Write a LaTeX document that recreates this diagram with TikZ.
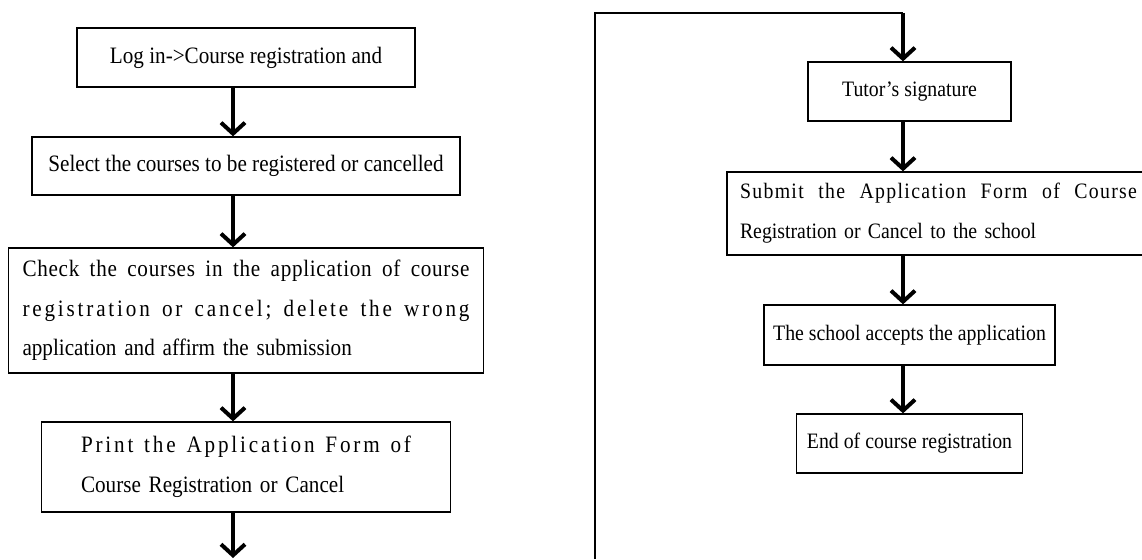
\documentclass[tikz,border=0pt]{standalone}
\usepackage{fontspec}
\setmainfont[FakeStretch=0.9]{Liberation Serif}
\usepackage{xcolor}
\usepackage{tikz}
\usetikzlibrary{arrows.meta, positioning}
\setlength{\parindent}{0pt}
\tikzstyle{stepbox} = [rectangle, draw=black, line width=1.3pt, inner sep=0pt, text centered, font=\fontsize{23.5}{39.5}\selectfont]
\tikzstyle{rightbox} = [stepbox, font=\fontsize{22}{40}\selectfont]
\tikzstyle{arrow} = [line width=4pt, -{Straight Barb[length=11pt,width=24pt]}]
\tikzstyle{frame} = [line width=1.6pt]
% one spread-out line, words split by \hfill
\newcommand{\spreadline}[3]{\makebox[#1][s]{\addfontfeature{LetterSpace=#2}#3}}

\begin{document}
\begin{tikzpicture}[x=1pt, y=1pt, on grid]
            \useasboundingbox (0,0) rectangle (1142,-559);
            \clip (0,0) rectangle (1142,-559);
            % Left column
            \node[stepbox, minimum width=338pt, minimum height=59pt] (login) at (246,-57.5) {Log in->Course registration and};
            \node[stepbox, minimum width=428pt, minimum height=58pt, below=108.5pt of login] (select) {Select the courses to be registered or cancelled};
            \node[stepbox, minimum width=475pt, minimum height=125pt, text width=447pt, align=left, below=144.5pt of select] (check)
                {\spreadline{447pt}{3}{Check\hfill the\hfill courses\hfill in\hfill the\hfill application\hfill of\hfill course}\\
                 \spreadline{447pt}{12}{registration\hfill or\hfill cancel;\hfill delete\hfill the\hfill wrong}\\
                 application and affirm the submission};
            \node[stepbox, minimum width=409pt, minimum height=90pt, text width=330pt, align=left, below=156.5pt of check] (print)
                {\spreadline{330pt}{12}{Print\hfill the\hfill Application\hfill Form\hfill of}\\
                 Course Registration or Cancel};
            % Right column
            \node[rightbox, minimum width=203pt, minimum height=59pt] (tutor) at (909.5,-91.5) {Tutor's signature};
            \node[rightbox, minimum width=423pt, minimum height=83pt, text width=397pt, align=left, below right=122pt and 29pt of tutor] (submit)
                {\spreadline{397pt}{6}{Submit\hfill the\hfill Application\hfill Form\hfill of\hfill Course}\\
                 Registration or Cancel to the school};
            \node[rightbox, minimum width=291pt, minimum height=60pt, below left=121.5pt and 29pt of submit] (accept) {The school accepts the application};
            \node[rightbox, minimum width=226pt, minimum height=59pt, below=108.5pt of accept] (finish) {End of course registration};

            % Spines and loose ends
            \coordinate (lspine) at (233,0);
            \coordinate (lout) at (233,-558);
            \coordinate (rin) at (595,-559);
            \coordinate (rturn) at (903,-13);

            % Arrows
            \draw[arrow] (login.south -| lspine) -- (select.north -| lspine);
            \draw[arrow] (select.south -| lspine) -- (check.north -| lspine);
            \draw[arrow] (check.south -| lspine) -- (print.north -| lspine);
            \draw[arrow] (print.south -| lspine) -- (lout);
            \draw[frame] (rin) |- (rturn);
            \draw[arrow] (rturn) -- (tutor.north -| rturn);
            \draw[arrow] (tutor.south -| rturn) -- (submit.north -| rturn);
            \draw[arrow] (submit.south -| rturn) -- (accept.north -| rturn);
            \draw[arrow] (accept.south -| rturn) -- (finish.north -| rturn);
        \end{tikzpicture}
\end{document}
